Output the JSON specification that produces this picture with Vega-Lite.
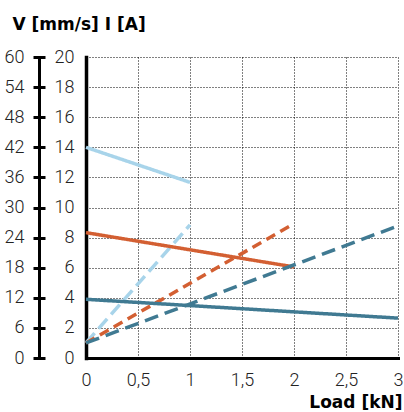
{
  "$schema": "https://vega.github.io/schema/vega-lite/v6.json",
  "width": 312,
  "height": 301,
  "autosize": {"type": "none"},
  "padding": {"left": 86, "top": 57, "right": 6, "bottom": 54},
  "background": "white",
  "config": {"view": {"stroke": null}, "font": "Roboto"},
  "data": {
    "values": [
      {"load": 0, "I": 14.0, "series": "light solid"},
      {"load": 1, "I": 11.67, "series": "light solid"},
      {"load": 0, "I": 1.0, "series": "light dashed"},
      {"load": 1, "I": 8.84, "series": "light dashed"},
      {"load": 0, "I": 8.33, "series": "orange solid"},
      {"load": 2, "I": 6.05, "series": "orange solid"},
      {"load": 0, "I": 1.0, "series": "orange dashed"},
      {"load": 2, "I": 8.93, "series": "orange dashed"},
      {"load": 0, "I": 3.9, "series": "teal solid"},
      {"load": 3, "I": 2.65, "series": "teal solid"},
      {"load": 0, "I": 1.0, "series": "teal dashed"},
      {"load": 3, "I": 8.78, "series": "teal dashed"}
    ]
  },
  "layer": [
    {
      "mark": {"type": "line", "strokeWidth": 3.5, "strokeCap": "butt"},
      "encoding": {
        "x": {
          "field": "load",
          "type": "quantitative",
          "scale": {"domain": [0, 3], "nice": false, "zero": false},
          "axis": {
            "values": [0, 0.5, 1, 1.5, 2, 2.5, 3],
            "format": "~g",
            "labelExpr": "replace(datum.label, '.', ',')",
            "domain": true,
            "domainColor": "black",
            "domainWidth": 3,
            "domainCap": "square",
            "ticks": false,
            "tickSize": 0,
            "labelPadding": 13,
            "labelFont": "Roboto",
            "labelFontWeight": 300,
            "labelFontSize": 18,
            "labelColor": "#222222",
            "labelFlush": false,
            "labelOverlap": false,
            "grid": true,
            "gridColor": "black",
            "gridDash": [1, 2],
            "gridWidth": 1,
            "title": "Load [kN]",
            "titleFont": "DejaVu Sans",
            "titleFontWeight": "bold",
            "titleFontSize": 17,
            "titleColor": "black",
            "titleAlign": "right",
            "titleBaseline": "alphabetic",
            "titleX": 316,
            "titleY": 49
          }
        },
        "y": {
          "field": "I",
          "type": "quantitative",
          "scale": {"domain": [0, 20], "nice": false},
          "axis": {
            "orient": "left",
            "values": [0, 2, 4, 6, 8, 10, 12, 14, 16, 18, 20],
            "domain": true,
            "domainColor": "black",
            "domainWidth": 3.5,
            "domainCap": "square",
            "ticks": false,
            "tickSize": 0,
            "labelPadding": 12,
            "labelFont": "Roboto",
            "labelFontWeight": 300,
            "labelFontSize": 18,
            "labelColor": "#222222",
            "labelFlush": false,
            "labelOverlap": false,
            "grid": true,
            "gridColor": "black",
            "gridDash": [1, 2],
            "gridWidth": 1,
            "title": null
          }
        },
        "color": {
          "field": "series",
          "type": "nominal",
          "scale": {
            "domain": ["light solid", "light dashed", "orange solid", "orange dashed", "teal solid", "teal dashed"],
            "range": ["#a8d4ea", "#a8d4ea", "#d35f32", "#d35f32", "#407a92", "#407a92"]
          },
          "legend": null
        },
        "strokeDash": {
          "field": "series",
          "type": "nominal",
          "scale": {
            "domain": ["light solid", "light dashed", "orange solid", "orange dashed", "teal solid", "teal dashed"],
            "range": [[1, 0], [13, 6], [1, 0], [10, 6], [1, 0], [14, 7]]
          },
          "legend": null
        }
      }
    },
    {
      "mark": {"type": "point", "opacity": 0},
      "encoding": {
        "y": {
          "field": "I",
          "type": "quantitative",
          "scale": {"domain": [0, 60], "nice": false},
          "axis": {
            "orient": "left",
            "offset": 47,
            "values": [0, 6, 12, 18, 24, 30, 36, 42, 48, 54, 60],
            "domain": true,
            "domainColor": "black",
            "domainWidth": 3,
            "domainCap": "square",
            "ticks": true,
            "tickSize": 6,
            "tickWidth": 3,
            "tickColor": "black",
            "labelPadding": 9,
            "labelFont": "Roboto",
            "labelFontWeight": 300,
            "labelFontSize": 18,
            "labelColor": "#222222",
            "labelFlush": false,
            "labelOverlap": false,
            "grid": false,
            "title": "V [mm/s] I [A]",
            "titleFont": "DejaVu Sans",
            "titleFontWeight": "bold",
            "titleFontSize": 17,
            "titleColor": "black",
            "titleAngle": 0,
            "titleAlign": "left",
            "titleBaseline": "alphabetic",
            "titleX": -27,
            "titleY": -27.5
          }
        }
      }
    },
    {
      "mark": {"type": "point", "opacity": 0},
      "encoding": {
        "y": {
          "field": "I",
          "type": "quantitative",
          "scale": {"domain": [0, 60], "nice": false},
          "axis": {
            "orient": "left",
            "offset": 47,
            "values": [0, 6, 12, 18, 24, 30, 36, 42, 48, 54, 60],
            "domain": false,
            "ticks": true,
            "tickSize": -6,
            "tickWidth": 3,
            "tickColor": "black",
            "labels": false,
            "grid": false,
            "title": null
          }
        }
      }
    }
  ],
  "resolve": {"scale": {"y": "independent"}, "axis": {"y": "independent"}}
}
